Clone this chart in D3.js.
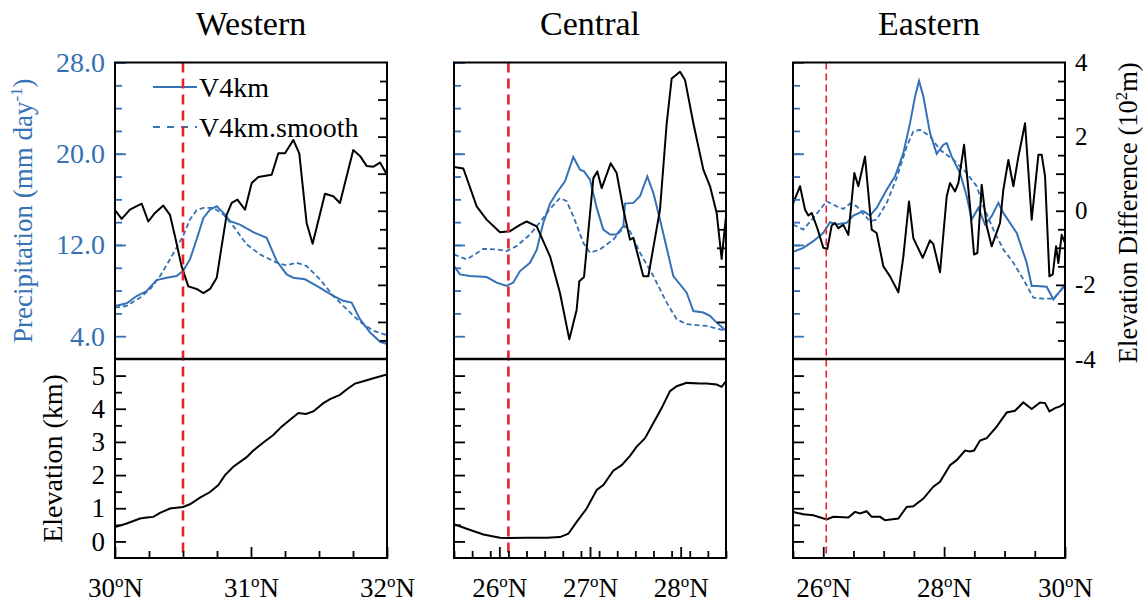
<!DOCTYPE html>
<html>
<head>
<meta charset="utf-8">
<script src="https://cdn.jsdelivr.net/npm/d3@7"></script>
<style>
  body { margin: 0; background: #fff; }
  svg text { font-family: "Liberation Serif", "Times New Roman", serif; }
</style>
</head>
<body>
<svg id="chart" width="1148" height="607"></svg>
<script>
// ── Data: [latitude (°N), value] ───────────────────────────────
// Western transect
const westV4km = [[30.00,6.65],[30.086,6.89],[30.159,7.52],[30.233,7.96],[30.306,8.92],[30.380,9.13],[30.453,9.27],[30.50,9.71],[30.551,10.73],[30.60,12.48],[30.65,14.37],[30.699,15.10],[30.748,15.40],[30.797,14.81],[30.846,14.08],[30.919,13.79],[31.017,13.12],[31.115,12.63],[31.189,10.59],[31.262,9.42],[31.311,9.13],[31.397,8.99],[31.483,8.41],[31.605,7.53],[31.679,7.10],[31.740,6.95],[31.801,5.49],[31.875,4.33],[31.949,3.51],[32.0,3.31]];
const westSmooth = [[30.00,6.51],[30.086,6.65],[30.184,7.38],[30.257,8.11],[30.331,9.27],[30.404,10.73],[30.50,12.77],[30.551,14.23],[30.60,15.05],[30.65,15.25],[30.723,15.25],[30.797,14.67],[30.870,13.65],[30.968,12.05],[31.066,11.17],[31.189,10.44],[31.262,10.21],[31.336,10.44],[31.409,10.15],[31.507,8.99],[31.605,7.53],[31.703,6.37],[31.801,5.26],[31.90,4.47],[32.0,4.09]];
const westDiff = [[30.00,0.02],[30.049,-0.22],[30.110,0.03],[30.196,0.19],[30.245,-0.29],[30.294,-0.06],[30.355,0.14],[30.404,-0.11],[30.441,-0.69],[30.490,-1.50],[30.539,-2.04],[30.60,-2.11],[30.65,-2.22],[30.699,-2.11],[30.748,-1.81],[30.784,-0.96],[30.821,-0.11],[30.858,0.21],[30.90,0.30],[30.956,0.03],[31.005,0.75],[31.054,0.91],[31.152,0.97],[31.201,1.55],[31.250,1.55],[31.311,1.91],[31.355,1.55],[31.409,-0.33],[31.453,-0.89],[31.544,0.46],[31.605,0.39],[31.654,0.21],[31.752,1.64],[31.801,1.48],[31.850,1.21],[31.90,1.19],[31.949,1.30],[32.0,0.97]];
const westElev = [[30.00,0.43],[30.086,0.54],[30.184,0.69],[30.233,0.72],[30.282,0.74],[30.331,0.86],[30.404,0.99],[30.50,1.04],[30.551,1.12],[30.625,1.32],[30.699,1.49],[30.760,1.70],[30.809,2.00],[30.870,2.25],[30.968,2.54],[31.017,2.74],[31.091,2.98],[31.164,3.21],[31.225,3.46],[31.287,3.67],[31.348,3.87],[31.404,3.84],[31.458,3.92],[31.532,4.17],[31.581,4.29],[31.654,4.42],[31.703,4.58],[31.765,4.76],[31.826,4.83],[31.90,4.92],[32.0,5.03]];

// Central transect
const centralV4km = [[25.50,10.15],[25.566,9.42],[25.676,9.27],[25.860,9.19],[25.971,8.70],[26.081,8.41],[26.154,8.70],[26.228,9.71],[26.338,10.44],[26.412,11.56],[26.485,13.94],[26.559,15.63],[26.632,16.56],[26.724,17.58],[26.816,19.71],[26.890,18.60],[26.934,18.45],[27.0,17.73],[27.074,15.25],[27.147,13.35],[27.221,12.92],[27.294,12.92],[27.368,13.65],[27.386,15.63],[27.478,15.69],[27.551,16.27],[27.632,18.02],[27.699,16.56],[27.772,14.23],[27.919,9.27],[28.066,7.82],[28.140,6.21],[28.250,6.07],[28.324,5.78],[28.397,5.19],[28.50,4.47]];
const centralSmooth = [[25.50,11.17],[25.640,10.73],[25.824,11.66],[25.971,11.61],[26.081,11.46],[26.191,11.90],[26.338,12.92],[26.449,14.00],[26.559,15.17],[26.669,16.12],[26.743,15.83],[26.816,14.52],[26.926,12.19],[27.0,11.32],[27.110,11.61],[27.257,12.48],[27.386,13.65],[27.441,13.21],[27.551,11.32],[27.699,9.27],[27.846,6.94],[27.956,5.49],[28.066,5.05],[28.287,4.90],[28.50,4.47]];
const centralDiff = [[25.50,1.18],[25.603,1.14],[25.750,0.12],[25.860,-0.24],[26.007,-0.58],[26.118,-0.55],[26.228,-0.38],[26.301,-0.29],[26.412,-0.42],[26.559,-1.23],[26.669,-2.22],[26.772,-3.47],[26.853,-2.67],[26.882,-1.90],[26.934,-1.79],[27.037,0.88],[27.081,1.06],[27.129,0.61],[27.228,1.28],[27.294,1.02],[27.368,0.03],[27.441,-0.78],[27.478,-0.73],[27.588,-1.77],[27.643,-1.77],[27.772,0.03],[27.846,2.36],[27.901,3.57],[27.993,3.75],[28.048,3.53],[28.140,2.36],[28.250,1.11],[28.324,0.66],[28.397,-0.06],[28.452,-1.30],[28.50,-0.15]];
const centralElev = [[25.50,0.52],[25.640,0.38],[25.824,0.21],[26.007,0.11],[26.103,0.10],[26.301,0.11],[26.522,0.11],[26.669,0.13],[26.761,0.23],[26.853,0.59],[26.963,0.99],[27.074,1.55],[27.147,1.70],[27.257,2.13],[27.349,2.30],[27.441,2.58],[27.515,2.86],[27.607,3.11],[27.699,3.57],[27.790,4.02],[27.882,4.53],[27.956,4.68],[28.066,4.78],[28.213,4.76],[28.287,4.76],[28.397,4.73],[28.452,4.66],[28.50,4.83]];

// Eastern transect
const eastV4km = [[25.50,11.40],[25.671,11.75],[25.836,12.33],[26.002,13.06],[26.112,13.99],[26.223,13.79],[26.388,13.94],[26.498,14.58],[26.664,14.96],[26.774,14.58],[26.884,15.25],[27.050,16.85],[27.188,18.02],[27.326,20.06],[27.436,22.68],[27.519,25.01],[27.585,26.38],[27.657,25.01],[27.767,21.81],[27.877,20.00],[27.988,20.79],[28.043,20.93],[28.125,19.77],[28.263,18.31],[28.374,16.27],[28.456,14.23],[28.567,15.25],[28.677,13.79],[28.787,14.52],[28.898,15.69],[28.980,14.81],[29.201,13.06],[29.366,10.44],[29.449,8.40],[29.532,8.40],[29.697,8.34],[29.808,7.23],[29.918,7.96],[30.0,8.55]];
const eastSmooth = [[25.50,13.79],[25.671,13.35],[25.836,14.37],[26.057,15.83],[26.223,15.39],[26.333,15.16],[26.443,15.63],[26.554,15.39],[26.774,14.08],[26.884,14.23],[27.050,15.69],[27.215,17.87],[27.381,20.64],[27.491,21.95],[27.601,22.10],[27.767,21.52],[27.932,20.35],[28.153,19.48],[28.374,18.31],[28.539,17.15],[28.649,15.39],[28.815,13.35],[28.980,11.61],[29.146,10.44],[29.311,8.98],[29.477,7.38],[29.642,7.29],[29.808,7.29],[30.0,8.40]];
const eastDiff = [[25.50,0.19],[25.616,0.66],[25.699,0.03],[25.754,-0.13],[25.809,-0.06],[25.892,-0.42],[26.002,-1.00],[26.068,-1.03],[26.140,-0.40],[26.195,-0.33],[26.250,-0.47],[26.333,-0.38],[26.416,-0.65],[26.515,1.02],[26.581,0.66],[26.691,1.46],[26.802,-0.51],[26.884,-0.60],[26.995,-1.50],[27.105,-1.77],[27.243,-2.20],[27.326,-1.23],[27.419,0.25],[27.491,-0.74],[27.646,-1.27],[27.767,-0.80],[27.822,-0.90],[27.932,-1.66],[28.043,0.39],[28.098,0.75],[28.181,0.52],[28.236,0.75],[28.330,1.78],[28.429,0.12],[28.495,-1.18],[28.550,-1.14],[28.622,0.70],[28.705,-0.42],[28.787,-0.96],[28.925,-0.33],[28.980,0.57],[29.063,1.37],[29.146,0.66],[29.229,1.46],[29.339,2.36],[29.449,-0.24],[29.560,1.51],[29.615,1.51],[29.670,0.93],[29.742,-1.77],[29.797,-1.72],[29.852,-0.96],[29.890,-1.41],[29.945,-0.65],[30.0,-0.87]];
const eastElev = [[25.50,0.89],[25.671,0.82],[25.836,0.79],[26.057,0.66],[26.167,0.74],[26.416,0.72],[26.526,0.89],[26.609,0.84],[26.719,0.91],[26.802,0.74],[26.940,0.74],[27.022,0.64],[27.243,0.69],[27.381,1.04],[27.491,1.06],[27.657,1.29],[27.822,1.65],[27.932,1.80],[28.098,2.30],[28.208,2.45],[28.346,2.74],[28.429,2.71],[28.495,2.74],[28.594,3.04],[28.705,3.11],[28.870,3.46],[29.036,3.89],[29.173,3.94],[29.311,4.19],[29.449,3.99],[29.587,4.19],[29.670,4.17],[29.742,3.92],[29.835,4.02],[29.918,4.07],[30.0,4.17]];

// Axis ticks
const precipTicks = [4, 12, 20, 28];
const diffTicks = [4, 2, 0, -2, -4];
const elevTicks = [0, 1, 2, 3, 4, 5];

const BLUE = "#3471b5";
const RED = "#e8222a";

const svg = d3.select("#chart");
const yTop = 62.5, yMid = 359, yBot = 558;
const W = 272;

// shared vertical scales
const yP = d3.scaleLinear().domain([2, 28]).range([yMid, yTop]);
const yD = d3.scaleLinear().domain([-4, 4]).range([yMid, yTop]);
const yE = d3.scaleLinear().domain([-0.5, 5.5]).range([yBot, yMid]);

const panels = [
  { title: "Western", x0: 115, domain: [30, 32], step: 0.25, major: [30, 31, 32], red: 30.5,
    v4: westV4km, sm: westSmooth, diff: westDiff, elev: westElev, redW: 2.6, redDash: "10,6" },
  { title: "Central", x0: 454, domain: [25.5, 28.5], step: 0.2, major: [26, 27, 28], red: 26.1,
    v4: centralV4km, sm: centralSmooth, diff: centralDiff, elev: centralElev, redW: 2.6, redDash: "10,6" },
  { title: "Eastern", x0: 793, domain: [25.5, 30], step: 0.5, major: [26, 28, 30], red: 26.05,
    v4: eastV4km, sm: eastSmooth, diff: eastDiff, elev: eastElev, redW: 1.6, redDash: "7,4" }
];

function styleTicks(sel, color) {
  sel.select(".domain").remove();
  sel.selectAll("line").attr("stroke", color).attr("stroke-width", 1.8);
}

panels.forEach((p, i) => {
  const x = d3.scaleLinear().domain(p.domain).range([p.x0, p.x0 + W]);
  const g = svg.append("g");

  // clip paths
  const cu = "clipU" + i, cl = "clipL" + i;
  svg.append("clipPath").attr("id", cu).append("rect")
    .attr("x", p.x0).attr("y", yTop).attr("width", W).attr("height", yMid - yTop);
  svg.append("clipPath").attr("id", cl).append("rect")
    .attr("x", p.x0).attr("y", yMid).attr("width", W).attr("height", yBot - yMid);

  // title
  g.append("text")
    .attr("x", p.x0 + W / 2).attr("y", 35)
    .attr("text-anchor", "middle").attr("font-size", 34)
    .text(p.title);

  // ── upper panel lines ─────────────────────────
  const lineP = d3.line().x(d => x(d[0])).y(d => yP(d[1]));
  const lineD = d3.line().x(d => x(d[0])).y(d => yD(d[1]));
  const lineE = d3.line().x(d => x(d[0])).y(d => yE(d[1]));

  const up = g.append("g").attr("clip-path", `url(#${cu})`);
  up.append("path").attr("d", lineP(p.sm))
    .attr("fill", "none").attr("stroke", BLUE).attr("stroke-width", 1.8)
    .attr("stroke-dasharray", "5,3");
  up.append("path").attr("d", lineP(p.v4))
    .attr("fill", "none").attr("stroke", BLUE).attr("stroke-width", 2);
  up.append("path").attr("d", lineD(p.diff))
    .attr("fill", "none").attr("stroke", "#000").attr("stroke-width", 2)
    .attr("stroke-linejoin", "round");

  // ── lower panel elevation ─────────────────────
  g.append("g").attr("clip-path", `url(#${cl})`)
    .append("path").attr("d", lineE(p.elev))
    .attr("fill", "none").attr("stroke", "#000").attr("stroke-width", 2);

  // ── legend (Western only) ─────────────────────
  if (i === 0) {
    const lg = g.append("g");
    lg.append("line").attr("x1", 153).attr("x2", 197).attr("y1", 87).attr("y2", 87)
      .attr("stroke", BLUE).attr("stroke-width", 2);
    lg.append("text").attr("x", 199).attr("y", 97).attr("font-size", 28).text("V4km");
    lg.append("line").attr("x1", 153).attr("x2", 197).attr("y1", 127).attr("y2", 127)
      .attr("stroke", BLUE).attr("stroke-width", 2).attr("stroke-dasharray", "7,7");
    lg.append("text").attr("x", 199).attr("y", 137).attr("font-size", 28).text("V4km.smooth");
  }

  // ── red dashed reference line ─────────────────
  g.append("line")
    .attr("x1", x(p.red)).attr("x2", x(p.red))
    .attr("y1", yTop).attr("y2", yBot)
    .attr("stroke", RED).attr("stroke-width", p.redW)
    .attr("stroke-dasharray", p.redDash);

  // ── ticks ─────────────────────────────────────
  // upper left (precipitation, blue)
  g.append("g").attr("transform", `translate(${p.x0},0)`)
    .call(d3.axisLeft(yP).tickValues(d3.range(6, 27, 2)).tickSize(-7).tickFormat(""))
    .call(s => styleTicks(s, BLUE));
  g.append("g").attr("transform", `translate(${p.x0},0)`)
    .call(d3.axisLeft(yP).tickValues(precipTicks).tickSize(-11).tickPadding(10)
      .tickFormat(i === 0 ? d3.format(".1f") : ""))
    .call(s => styleTicks(s, BLUE))
    .call(s => s.selectAll("text").attr("fill", BLUE).attr("font-size", 28)
      .style("font-family", "Liberation Serif"));

  // upper right (elevation difference, black)
  g.append("g").attr("transform", `translate(${p.x0 + W},0)`)
    .call(d3.axisRight(yD).tickValues(d3.range(-3.5, 4, 1)).tickSize(-7).tickFormat(""))
    .call(s => styleTicks(s, "#000"));
  g.append("g").attr("transform", `translate(${p.x0 + W},0)`)
    .call(d3.axisRight(yD).tickValues(d3.range(-3, 4, 1)).tickSize(-9).tickFormat(""))
    .call(s => styleTicks(s, "#000"));
  if (i === 2) {
    g.append("g").attr("transform", `translate(${p.x0 + W},0)`)
      .call(d3.axisRight(yD).tickValues(diffTicks).tickSize(0).tickPadding(10)
        .tickFormat(d => String(d)))
      .call(s => styleTicks(s, "#000"))
      .call(s => s.selectAll("text").attr("fill", "#000").attr("font-size", 25)
        .style("font-family", "Liberation Serif"));
  }

  // lower left (elevation)
  g.append("g").attr("transform", `translate(${p.x0},0)`)
    .call(d3.axisLeft(yE).tickValues(d3.range(0.5, 5.1, 1)).tickSize(-7).tickFormat(""))
    .call(s => styleTicks(s, "#000"));
  g.append("g").attr("transform", `translate(${p.x0},0)`)
    .call(d3.axisLeft(yE).tickValues(elevTicks).tickSize(-11).tickPadding(10)
      .tickFormat(i === 0 ? d3.format("d") : ""))
    .call(s => styleTicks(s, "#000"))
    .call(s => s.selectAll("text").attr("fill", "#000").attr("font-size", 27)
      .style("font-family", "Liberation Serif"));

  // bottom (latitude)
  const minor = d3.range(p.domain[0], p.domain[1] + 1e-6, p.step)
    .filter(v => !p.major.some(m => Math.abs(m - v) < 1e-6));
  g.append("g").attr("transform", `translate(0,${yBot})`)
    .call(d3.axisBottom(x).tickValues(minor).tickSize(-7).tickFormat(""))
    .call(s => styleTicks(s, "#000"));
  g.append("g").attr("transform", `translate(0,${yBot})`)
    .call(d3.axisBottom(x).tickValues(p.major).tickSize(-11).tickPadding(20))
    .call(s => styleTicks(s, "#000"))
    .call(s => s.selectAll("text").attr("fill", "#000").attr("font-size", 27)
      .style("font-family", "Liberation Serif")
      .each(function (d) {
        const t = d3.select(this).text("");
        t.append("tspan").text(d);
        t.append("tspan").attr("font-size", 17).attr("dy", -10).text("o");
        t.append("tspan").attr("dy", 10).text("N");
      }));

  // ── frames ────────────────────────────────────
  g.append("rect").attr("x", p.x0).attr("y", yTop).attr("width", W).attr("height", yBot - yTop)
    .attr("fill", "none").attr("stroke", "#000").attr("stroke-width", 2);
  g.append("line").attr("x1", p.x0).attr("x2", p.x0 + W).attr("y1", yMid).attr("y2", yMid)
    .attr("stroke", "#000").attr("stroke-width", 2.6);
});

// ── axis titles ─────────────────────────────────
const pt = svg.append("text")
  .attr("transform", `translate(32,${(yTop + yMid) / 2}) rotate(-90)`)
  .attr("text-anchor", "middle").attr("font-size", 27).attr("fill", BLUE);
pt.append("tspan").text("Precipitation (mm day");
pt.append("tspan").attr("font-size", 17).attr("dy", -10).text("-1");
pt.append("tspan").attr("dy", 10).text(")");

svg.append("text")
  .attr("transform", `translate(62,${(yMid + yBot) / 2}) rotate(-90)`)
  .attr("text-anchor", "middle").attr("font-size", 28).attr("fill", "#000")
  .text("Elevation (km)");

const dt = svg.append("text")
  .attr("transform", `translate(1137,${(yTop + yMid) / 2 + 2}) rotate(-90)`)
  .attr("text-anchor", "middle").attr("font-size", 26.5).attr("fill", "#000");
dt.append("tspan").text("Elevation Difference (10");
dt.append("tspan").attr("font-size", 17).attr("dy", -10).text("2");
dt.append("tspan").attr("dy", 10).text("m)");
</script>
</body>
</html>
